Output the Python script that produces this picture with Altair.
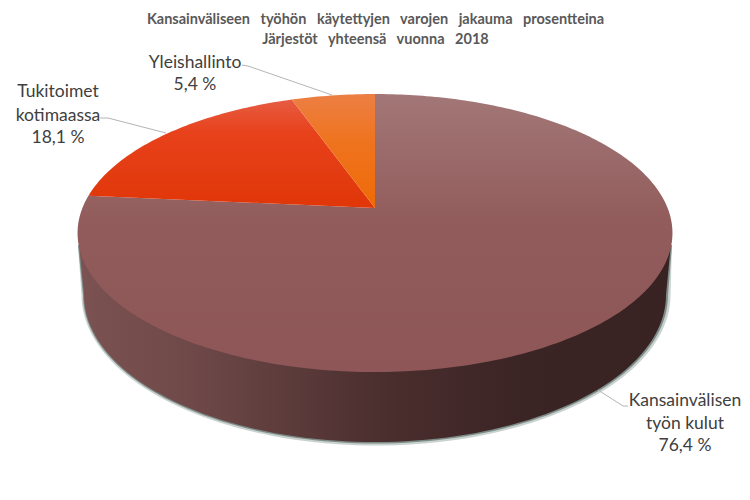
import math
import altair as alt

# --- chart values -----------------------------------------------------------
TITLE_LINES = ["Kansainväliseen  työhön  käytettyjen  varojen  jakauma  prosentteina",
               "Järjestöt  yhteensä  vuonna  2018"]
SLICE_NAMES = ["Kansainvälisen työn kulut", "Tukitoimet kotimaassa", "Yleishallinto"]
SLICE_SHARES = [76.4, 18.1, 5.4]
LABEL_LINES = [["Kansainvälisen", "työn kulut", "76,4 %"],
               ["Tukitoimet", "kotimaassa", "18,1 %"],
               ["Yleishallinto", "5,4 %"]]

# --- layout / style ---------------------------------------------------------
CX, CY = 375.0, 208.0          # image of the pie's centre
RX, RY, K = 292.6, 134.5, 0.18 # perspective ellipse
LOW_CY, LOW_RX, LOW_RY = 295.0, 291.0, 147.0


def grad(stops, horizontal=False):
    return alt.LinearGradient(
        gradient="linear", x1=0, y1=0, x2=1 if horizontal else 0, y2=0 if horizontal else 1,
        stops=[alt.GradientStop(offset=o, color=c) for o, c in stops])


FILLS = [
    grad([(0, "#a37777"), (0.45, "#925c5c"), (1, "#8e5656")]),
    grad([(0, "#e65c42"), (0.3, "#e8421c"), (1, "#e03608")]),
    grad([(0, "#ec7f44"), (0.4, "#ef7420"), (1, "#ee6a06")]),
]
WALL_FILL = grad([(0, "#7c5252"), (0.2, "#6e4848"), (0.5, "#4c2f2f"), (0.75, "#3b2424"), (1, "#382222")], True)

xs = alt.Scale(domain=[8, 742], nice=False, zero=False)
ys = alt.Scale(domain=[8, 486], reverse=True, nice=False, zero=False)
X = alt.X("x:Q", scale=xs, axis=None)
Y = alt.Y("y:Q", scale=ys, axis=None)


def rim(deg):
    t = math.radians(deg)
    sx, cy_ = math.sin(t), math.cos(t)
    d = 1 + K * cy_
    return CX + RX * sx / d, CY - RY * cy_ / d


def shape(points, fill, opacity=1):
    vals = [{"i": i, "x": p[0], "y": p[1]} for i, p in enumerate(points)]
    return alt.Chart(alt.Data(values=vals)).mark_line(
        fill=fill, strokeWidth=0, opacity=opacity, interpolate="linear", clip=False
    ).encode(x=X, y=Y, order="i:Q")


def lower(grow=0.0, dx=0.0, dy=0.0):
    pts = []
    for a in range(0, 181, 2):
        t = math.radians(a)
        pts.append((CX + dx + (LOW_RX + grow) * math.cos(t), LOW_CY + dy + (LOW_RY + grow) * math.sin(t)))
    return pts


wall = [(CX + 297, 233.0)] + lower() + [(CX - 297, 233.0)]
layers = [
    shape([(CX + 297, 245.0)] + lower(3.5, 1, 0) + [(CX - 297, 245.0)], "#b4bfbb", 0.7),
    shape([(CX + 297, 245.0)] + lower(1.5, 0.5, 0) + [(CX - 297, 245.0)], "#6f7f7a", 0.85),
    shape(wall, WALL_FILL),
]

total = sum(SLICE_SHARES)
start = 0.0
for share, fill in zip(SLICE_SHARES, FILLS):
    end = start + 360 * share / total
    n = max(4, int(end - start))
    pts = [rim(start + (end - start) * j / n) for j in range(n + 1)] + [(CX, CY)]
    layers.append(shape(pts, fill))
    start = end

LEADERS = [[(628, 406), (623, 406), (598, 390)],
           [(100, 118), (108, 118), (166, 133)],
           [(242, 65), (248, 66), (332, 95)]]
leader_vals = [{"g": g, "i": i, "x": p[0], "y": p[1]} for g, l in enumerate(LEADERS) for i, p in enumerate(l)]
layers.append(alt.Chart(alt.Data(values=leader_vals)).mark_line(color="#b5b5b5", strokeWidth=1).encode(
    x=X, y=Y, order="i:Q", detail="g:N"))

LABEL_POS = [(685, [401, 424, 446]), (58, [92, 116, 138]), (195, [63, 85])]
label_vals = []
for lines, (lx, lys) in zip(LABEL_LINES, LABEL_POS):
    for t, ly in zip(lines, lys):
        label_vals.append({"t": t, "x": lx, "y": ly})
layers.append(alt.Chart(alt.Data(values=label_vals)).mark_text(
    font="Lato", fontSize=17.5, color="#404040", align="center", baseline="middle"
).encode(x=X, y=Y, text="t:N"))

title_vals = [{"t": t.replace("  ", "\u00a0\u00a0\u00a0"), "x": 375.5, "y": y} for t, y in zip(TITLE_LINES, [19.5, 40])]
layers.append(alt.Chart(alt.Data(values=title_vals)).mark_text(
    font="Lato", fontSize=14.5, fontWeight="bold", color="#595959", align="center", baseline="middle"
).encode(x=X, y=Y, text="t:N"))

chart = alt.layer(*layers).properties(
    width=734, height=478, padding=0, background="white",
    autosize=alt.AutoSizeParams(type="none")
).configure_view(strokeWidth=0)

chart.save("out.html", embed_options={"renderer": "svg", "actions": False})
